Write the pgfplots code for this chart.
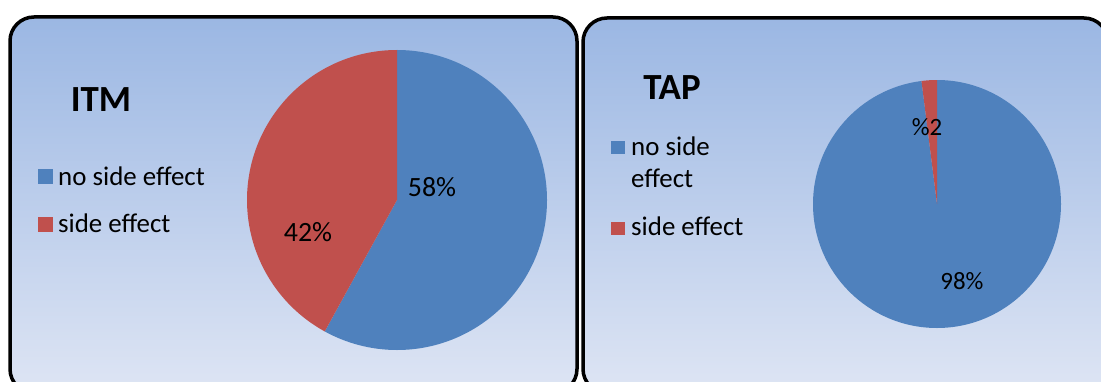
\documentclass[border=0pt]{standalone}
\usepackage{pgfplots}
\pgfplotsset{compat=1.18}
\usepackage{pgfplotstable}
\usepackage{fontspec}
\setmainfont{Carlito}
\definecolor{pieblue}{RGB}{79,129,189}
\definecolor{piered}{RGB}{192,80,77}
\definecolor{bgtop}{RGB}{155,183,227}
\definecolor{bgbot}{RGB}{222,229,244}

% ITM: no side effect, side effect (percent)
\pgfplotstableread{
share
58
42
}\itmdata
% TAP: no side effect, side effect (percent)
\pgfplotstableread{
share
98
2
}\tapdata

\begin{document}
\begin{tikzpicture}[x=1bp,y=1bp]
\pgfplotstablegetelem{0}{share}\of\itmdata \let\itmA\pgfplotsretval
\pgfplotstablegetelem{1}{share}\of\itmdata \let\itmB\pgfplotsretval
\pgfplotstablegetelem{0}{share}\of\tapdata \let\tapA\pgfplotsretval
\pgfplotstablegetelem{1}{share}\of\tapdata \let\tapB\pgfplotsretval
\clip (0,0) rectangle (1101,381);
% panels
\shade[top color=bgtop,bottom color=bgbot,rounded corners=24bp] (10,364) rectangle (577,-12);
\draw[line width=3.5bp,rounded corners=24bp] (10,364) rectangle (577,-12);
\shade[top color=bgtop,bottom color=bgbot,rounded corners=24bp] (583,363) rectangle (1108,-12);
\draw[line width=3.5bp,rounded corners=24bp] (583,363) rectangle (1108,-12);

% ITM pie
\begin{axis}[at={(397,181)},anchor=center,x=1bp,y=1bp,
  xmin=-150,xmax=150,ymin=-150,ymax=150,hide axis,clip=false]
\fill[pieblue] (axis cs:0,0) -- (axis cs:0,150) arc[start angle=90,delta angle={-3.6*\itmA},radius=150bp] -- cycle;
\fill[piered] (axis cs:0,0) -- (axis cs:0,150) arc[start angle=90,delta angle={3.6*\itmB},radius=150bp] -- cycle;
\node[font=\fontsize{28}{32}\selectfont] at (axis cs:35,13) {58\%};
\node[font=\fontsize{28}{32}\selectfont] at (axis cs:-89,-32) {42\%};
\end{axis}

% TAP pie
\begin{axis}[at={(937,177)},anchor=center,x=1bp,y=1bp,
  xmin=-124,xmax=124,ymin=-124,ymax=124,hide axis,clip=false]
\fill[pieblue] (axis cs:0,0) -- (axis cs:0,124) arc[start angle=90,delta angle={-3.6*\tapA},radius=124bp] -- cycle;
\fill[piered] (axis cs:0,0) -- (axis cs:0,124) arc[start angle=90,delta angle={3.6*\tapB},radius=124bp] -- cycle;
\node[font=\fontsize{25}{30}\selectfont] at (axis cs:-10,77) {\%2};
\node[font=\fontsize{25}{30}\selectfont] at (axis cs:25,-77) {98\%};
\end{axis}

% titles
\node[font=\fontsize{37}{42}\selectfont\bfseries] at (101,281) {ITM};
\node[font=\fontsize{37}{42}\selectfont\bfseries] at (672,293) {TAP};

% legends
\fill[pieblue] (38,197) rectangle (53,212);
\node[anchor=base west,inner sep=0pt,font=\fontsize{27}{32}\selectfont] at (58,196) {no side effect};
\fill[piered] (38,149) rectangle (53,164);
\node[anchor=base west,inner sep=0pt,font=\fontsize{27}{32}\selectfont] at (58,149) {side effect};

\fill[pieblue] (611,227) rectangle (625,240);
\node[anchor=base west,inner sep=0pt,font=\fontsize{27}{32}\selectfont] at (631,226) {no side};
\node[anchor=base west,inner sep=0pt,font=\fontsize{27}{32}\selectfont] at (631,194) {effect};
\fill[piered] (611,146) rectangle (625,159);
\node[anchor=base west,inner sep=0pt,font=\fontsize{27}{32}\selectfont] at (631,146) {side effect};
\end{tikzpicture}
\end{document}
